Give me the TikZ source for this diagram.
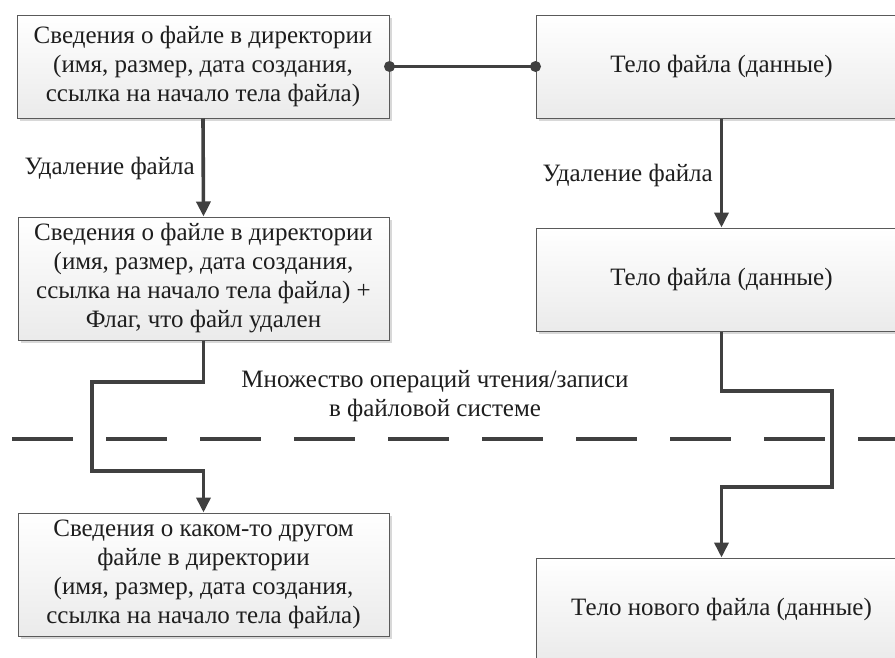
\documentclass[tikz,border=0pt]{standalone}
\usepackage{fontspec}
\setmainfont{Liberation Serif}
\newfontfamily\tnr{Liberation Serif}
\usetikzlibrary{arrows.meta,shadows}
\definecolor{conncol}{HTML}{404040}
\definecolor{boxline}{HTML}{5A5A5A}
\definecolor{txtcol}{HTML}{1E1E1E}
\tikzset{
  fbox/.style={draw=boxline, line width=1pt, top color=white, bottom color=black!8,
    drop shadow={shadow xshift=2.5pt, shadow yshift=-2.5pt, fill=black!25, opacity=0.6},
    align=center, inner sep=0pt, text=txtcol,
    font=\tnr\fontsize{25}{29}\selectfont},
  conn/.style={draw=conncol, line width=3.6pt},
  arr/.style={conn, -{Triangle[length=15pt,width=14pt]}},
  lbl/.style={text=txtcol, font=\tnr\fontsize{25}{29}\selectfont, inner sep=0pt, align=center},
  dotc/.style={fill=conncol}
}
\begin{document}
\begin{tikzpicture}[x=1pt,y=-1pt]
\useasboundingbox (0,0) rectangle (895,657);
\clip (0,0) rectangle (895,657);
\fill[white] (0,0) rectangle (895,657);
% dashed separator
\draw[conn, dash pattern=on 61pt off 33pt] (12,439) -- (900,439);
% boxes
\node[fbox, minimum width=372pt, minimum height=103pt] (A) at (203,66.5)
  {Сведения о файле в директории\\(имя, размер, дата создания,\\ссылка на начало тела файла)};
\node[fbox, minimum width=371pt, minimum height=103pt] (B) at (721.5,66.5)
  {Тело файла (данные)};
\node[fbox, minimum width=371pt, minimum height=123pt] (C) at (203.5,278.5)
  {Сведения о файле в директории\\(имя, размер, дата создания,\\ссылка на начало тела файла) +\\Флаг, что файл удален};
\node[fbox, minimum width=371pt, minimum height=103pt] (D) at (721.5,279.5)
  {Тело файла (данные)};
\node[fbox, minimum width=371pt, minimum height=123pt] (E) at (203.5,574.5)
  {Сведения о каком-то другом\\файле в директории\\(имя, размер, дата создания,\\ссылка на начало тела файла)};
\node[fbox, minimum width=371pt, minimum height=103pt] (F) at (721.5,609.5)
  {Тело нового файла (данные)};
% labels
\node[lbl, anchor=east] (l1) at (195,168) {Удаление файла};
\node[lbl, anchor=east] (l2) at (713,175) {Удаление файла};
\node[lbl] (l3) at (435,396) {Множество операций чтения/записи\\в файловой системе};
% connectors
\draw[conn] (A.east) -- (B.west);
\fill[dotc] (A.east) circle (5.5);
\fill[dotc] (B.west) circle (5.5);
\draw[arr] (A.south) -- (C.north);
\draw[arr] (B.south) -- (D.north);
\coordinate (c1) at (92,382);
\coordinate (c2) at (92,471);
\draw[arr] (C.south) |- (c1) -- (c2) -| (E.north);
\coordinate (d1) at (832,391);
\coordinate (d2) at (832,487);
\draw[arr] (D.south) |- (d1) -- (d2) -| (F.north);
\end{tikzpicture}
\end{document}
